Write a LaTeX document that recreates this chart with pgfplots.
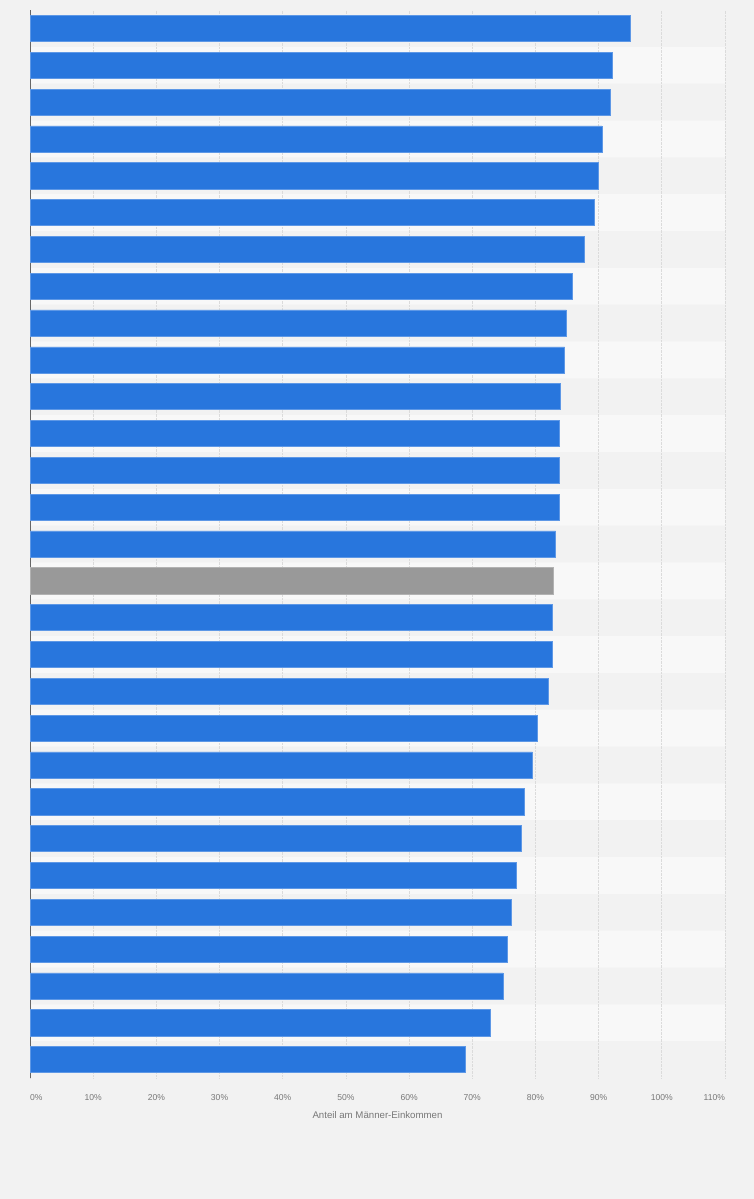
\documentclass[border=0pt]{standalone}
\usepackage{pgfplots}
\pgfplotsset{compat=1.18}
\usepackage{fontspec}
\setmainfont{Liberation Sans}
\definecolor{bgc}{HTML}{F2F2F2}
\definecolor{stripe}{HTML}{F8F8F8}
\definecolor{barblue}{HTML}{2876DD}
\definecolor{bargray}{HTML}{999999}
\definecolor{txt}{HTML}{777777}
\begin{document}
\begin{tikzpicture}
\begin{axis}[
  set layers,
  scale only axis,
  width=695bp, height=1068bp,
  xmin=0, xmax=110, ymin=0.5, ymax=29.5,
  clip=false,
  xbar, /pgf/bar shift=0pt, bar width=0.71,
  axis y line*=left,
  y axis line style={-, draw=black!60, line width=1bp},
  axis x line*=bottom,
  x axis line style={draw=none},
  ytick=\empty,
  xtick={0,10,...,110},
  xticklabels={\makebox[0pt][l]{0\%},10\%,20\%,30\%,40\%,50\%,60\%,70\%,80\%,90\%,100\%,\makebox[0pt][r]{110\%}},
  major tick length=0pt,
  xticklabel style={font=\fontsize{8.6}{10}\selectfont, text=txt, anchor=center, yshift=-19.5bp},
  /pgf/number format/assume math mode=true,
  xmajorgrids,
  grid style={densely dotted, draw=black!14, line width=0.7bp},
  xlabel={Anteil am Männer-Einkommen},
  xlabel style={at={(axis description cs:0.5,0)}, anchor=center, yshift=-37.5bp, font=\fontsize{9.7}{11}\selectfont, text=txt},
]
\begin{pgfonlayer}{axis background}
\fill[bgc] (rel axis cs:0,0) ++(-30bp,-121bp) rectangle ++(754bp,1199bp);
\end{pgfonlayer}
% alternating stripes
\addplot[on layer=axis background, fill=stripe, draw=none, bar width=1] coordinates {
(110,28) (110,26) (110,24) (110,22) (110,20) (110,18) (110,16)
(110,14) (110,12) (110,10) (110,8) (110,6) (110,4) (110,2)};
% blue bars
\addplot[fill=barblue, draw=barblue!75!white, line width=0.6bp] coordinates {
(95.0,29) (92.1,28) (91.9,27) (90.5,26) (89.9,25) (89.3,24) (87.8,23)
(85.8,22) (84.9,21) (84.6,20) (84.0,19) (83.7,18) (83.7,17) (83.7,16)
(83.2,15) (82.6,13) (82.6,12) (82.1,11) (80.3,10) (79.5,9) (78.3,8)
(77.8,7) (76.9,6) (76.2,5) (75.6,4) (74.9,3) (72.9,2) (68.9,1)};
% highlighted bar
\addplot[fill=bargray, draw=bargray!75!white, line width=0.6bp] coordinates {(82.8,14)};
\end{axis}
\end{tikzpicture}
\end{document}
